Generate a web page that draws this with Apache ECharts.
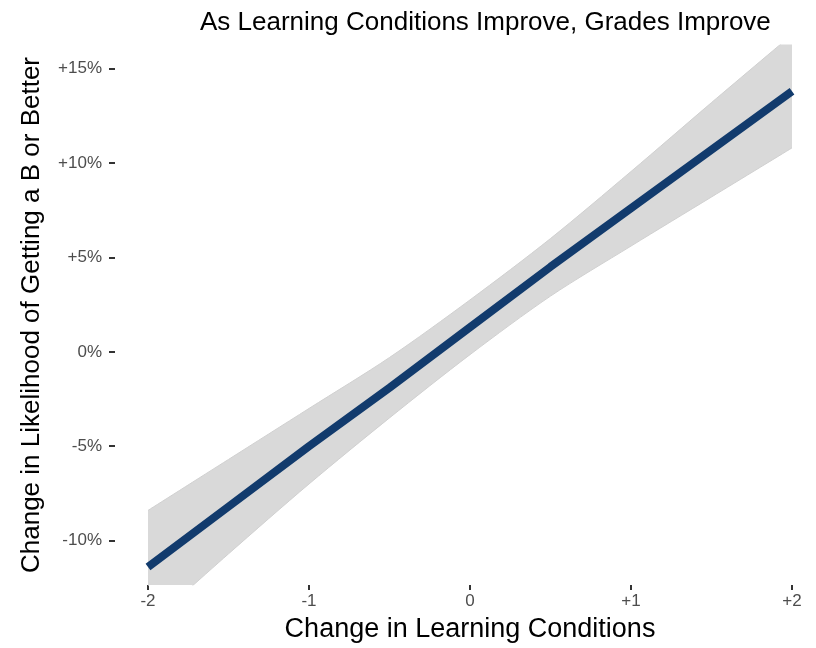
<!DOCTYPE html>
<html>
<head>
<meta charset="utf-8">
<script src="https://cdn.jsdelivr.net/npm/echarts@6/dist/echarts.min.js"></script>
<style>
  html, body { margin: 0; padding: 0; background: #fff; }
  #chart { width: 816px; height: 648px; }
</style>
</head>
<body>
<div id="chart"></div>
<script>
// change in learning conditions (x) and the fitted change in likelihood, in percent
const conditions = [-2, -1.5, -1, -0.5, 0, 0.5, 1, 1.5, 2];
const fitted = [-11.4, -8.2, -5.0, -1.9, 1.3, 4.5, 7.6, 10.7, 13.8];
const upperCI = [-8.4, -5.7, -3.0, -0.3, 2.75, 6.0, 9.55, 13.2, 16.8];
const lowerCI = [-14.5, -10.7, -7.0, -3.5, -0.15, 2.95, 5.6, 8.2, 10.8];
const yTicks = [-10, -5, 0, 5, 10, 15];

const font = 'Liberation Sans, Arial, sans-serif';
const chart = echarts.init(document.getElementById('chart'));

const pairs = ys => conditions.map((x, i) => [x, ys[i]]);

chart.setOption({
  animation: false,
  backgroundColor: '#fff',
  title: {
    text: 'As Learning Conditions Improve, Grades Improve',
    left: 195,
    top: 5,
    textStyle: { fontFamily: font, fontSize: 26, fontWeight: 'normal', color: '#000' }
  },
  grid: { left: 148, right: 24, top: 45, bottom: 55 },
  xAxis: {
    type: 'value',
    min: -2,
    max: 2,
    interval: 1,
    name: 'Change in Learning Conditions',
    nameLocation: 'middle',
    nameGap: 31,
    nameTextStyle: { fontFamily: font, fontSize: 27, color: '#000' },
    axisLine: { show: false, onZero: false },
    axisTick: { show: true, length: 5, lineStyle: { color: '#333', width: 2 } },
    axisLabel: {
      margin: 8,
      fontFamily: font, fontSize: 17, color: '#4d4d4d',
      formatter: v => (v > 0 ? '+' + v : '' + v)
    },
    splitLine: { show: false }
  },
  yAxis: {
    type: 'value',
    min: -12.35,
    max: 16.25,
    offset: 33,
    name: 'Change in Likelihood of Getting a B or Better',
    nameLocation: 'middle',
    nameGap: 70,
    nameTextStyle: { fontFamily: font, fontSize: 26, color: '#000' },
    axisLine: { show: false, onZero: false },
    axisTick: { show: true, length: 6, customValues: yTicks, lineStyle: { color: '#333', width: 2 } },
    axisLabel: {
      margin: 13,
      customValues: yTicks,
      fontFamily: font, fontSize: 17, color: '#4d4d4d',
      formatter: v => (v > 0 ? '+' + v + '%' : v + '%')
    },
    splitLine: { show: false }
  },
  series: [
    {
      // grey from the upper bound down to the bottom of the panel
      name: 'upper',
      type: 'line',
      data: pairs(upperCI),
      symbol: 'none',
      smooth: 0.3,
      lineStyle: { width: 1, color: '#d0d0d0' },
      areaStyle: { color: '#d9d9d9', opacity: 1, origin: 'start' },
      silent: true,
      z: 1
    },
    {
      // white below the lower bound leaves only the band
      name: 'lower',
      type: 'line',
      data: pairs(lowerCI),
      symbol: 'none',
      smooth: 0.3,
      lineStyle: { width: 1, color: '#d0d0d0' },
      areaStyle: { color: '#fff', opacity: 1, origin: 'start' },
      silent: true,
      z: 2
    },
    {
      name: 'fit',
      type: 'line',
      data: pairs(fitted),
      symbol: 'none',
      lineStyle: { width: 8, color: '#123b6d', cap: 'butt' },
      z: 5
    }
  ]
});
</script>
</body>
</html>
